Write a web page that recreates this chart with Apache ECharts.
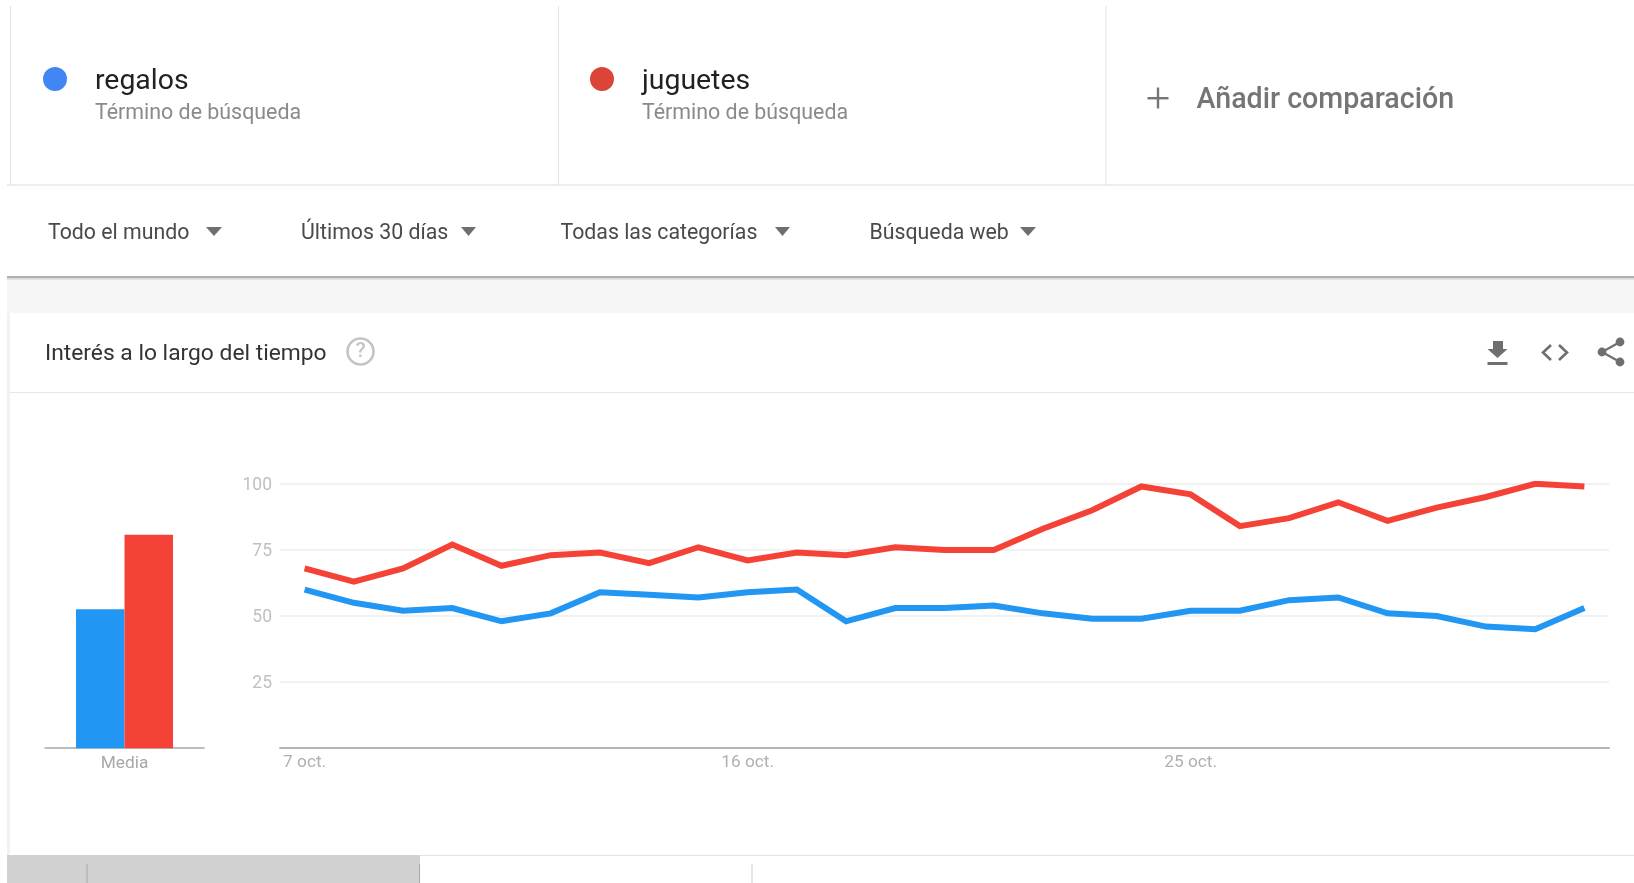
<!DOCTYPE html>
<html>
<head>
<meta charset="utf-8">
<style>html,body{margin:0;padding:0;background:#fff}#c{width:1634px;height:883px}</style>
<script src="https://cdn.jsdelivr.net/npm/echarts@6/dist/echarts.min.js"></script>
</head>
<body>
<div id="c"></div>
<script>
const dates = ["7 oct.","8 oct.","9 oct.","10 oct.","11 oct.","12 oct.","13 oct.","14 oct.","15 oct.","16 oct.","17 oct.","18 oct.","19 oct.","20 oct.","21 oct.","22 oct.","23 oct.","24 oct.","25 oct.","26 oct.","27 oct.","28 oct.","29 oct.","30 oct.","31 oct.","1 nov.","2 nov."];
const regalos = [60,55,52,53,48,51,59,58,57,59,60,48,53,53,54,51,49,49,52,52,56,57,51,50,46,45,53];
const juguetes = [68,63,68,77,69,73,74,70,76,71,74,73,76,75,75,83,90,99,96,84,87,93,86,91,95,100,99];
const mediaCategory = ["Media"];
const mediaRegalos = [52.6];
const mediaJuguetes = [80.7];
const filters = ["Todo el mundo","Últimos 30 días","Todas las categorías","Búsqueda web"];

const FONT = 'Roboto';
const txt = (x,y,text,size,fill,weight) => ({type:'text',x,y,silent:true,style:{text,x:0,y:0,font:`${weight||400} ${size}px ${FONT}`,fill,verticalAlign:'middle',align:'left'}});
const rect = (x,y,w,h,fill) => ({type:'rect',silent:true,shape:{x,y,width:w,height:h},style:{fill}});
const tri = (x1,x2,y1,y2,fill) => ({type:'polygon',silent:true,shape:{points:[[x1,y1],[x2,y1],[(x1+x2)/2,y2]]},style:{fill}});
const poly = (pts,stroke,lw) => ({type:'polyline',silent:true,shape:{points:pts},style:{stroke,lineWidth:lw,fill:null}});
const circle = (cx,cy,r,fill) => ({type:'circle',silent:true,shape:{cx,cy,r},style:{fill}});

const chrome = [
  rect(0,0,1634,883,'#ffffff'),
  // search term cards
  rect(10,6,1,179,'#e3e3e3'), rect(558,6,1,179,'#e3e3e3'), rect(1105.5,6,1,179,'#e3e3e3'),
  rect(7,184.5,1627,1,'#dddddd'),
  circle(55,79,12,'#4285f4'),
  txt(95,82,'regalos',28.4,'#202124'),
  txt(95,114,'Término de búsqueda',21.4,'#8a8a8a'),
  circle(602,79,12,'#db4437'),
  txt(642,82,'juguetes',28.4,'#202124'),
  txt(642,114,'Término de búsqueda',21.4,'#8a8a8a'),
  rect(1147.5,97,21,2.4,'#757575'), rect(1156.8,87.5,2.4,21,'#757575'),
  txt(1196.5,101,'Añadir comparación',28.6,'#757575',500),
  // filter row
  txt(48,234,filters[0],21.3,'#4a4a4a'), tri(206,222,227,236,'#6f6f6f'),
  txt(301,234,filters[1],21.3,'#4a4a4a'), tri(461,476,227,236,'#6f6f6f'),
  txt(560.5,234,filters[2],21.3,'#4a4a4a'), tri(775,790,227,236,'#6f6f6f'),
  txt(869.5,234,filters[3],21.3,'#4a4a4a'), tri(1020,1036,227,236,'#6f6f6f'),
  // band under filters
  rect(7,278,1627,35,'#f6f6f6'), rect(7,276,1627,2.5,'#b0b0b0'), rect(7,278.5,1627,1.5,'#e2e2e2'),
  rect(7,313,3,543,'#f2f2f2'),
  // panel header
  txt(45,354,'Interés a lo largo del tiempo',22.8,'#333333'),
  {type:'circle',silent:true,shape:{cx:360.5,cy:351.5,r:13},style:{fill:'#fff',stroke:'#c4c4c4',lineWidth:2.6}},
  {type:'text',x:360.5,y:352,silent:true,style:{text:'?',x:0,y:0,font:`500 21px ${FONT}`,fill:'#c4c4c4',align:'center',verticalAlign:'middle'}},
  rect(10,392,1624,1,'#e6e6e6'),
  // download icon
  {type:'polygon',silent:true,shape:{points:[[1493,341],[1503,341],[1503,349],[1507.5,349],[1497.5,358],[1487.5,349],[1493,349]]},style:{fill:'#6f6f6f'}},
  rect(1487.5,362,20,3,'#6f6f6f'),
  // code icon
  poly([[1551,345],[1543,352.5],[1551,360]],'#6f6f6f',2.6),
  poly([[1559,345],[1567,352.5],[1559,360]],'#6f6f6f',2.6),
  // share icon
  poly([[1620,342],[1602,352],[1620,362]],'#6f6f6f',2.2),
  circle(1602,352,4.4,'#6f6f6f'), circle(1620,342,4.4,'#6f6f6f'), circle(1620,362,4.4,'#6f6f6f'),
  // bottom strip
  rect(7,855,1627,1,'#e3e3e3'),
  rect(7,855,413,28,'#d1d1d1'),
  rect(86.5,864,1,19,'#a8a8a8'), rect(419,864,1,19,'#a8a8a8'), rect(751.5,864,1,19,'#cfcfcf')
];

const chart = echarts.init(document.getElementById('c'));
chart.setOption({
  backgroundColor:'#ffffff',
  animation:false,
  textStyle:{fontFamily:FONT},
  graphic:{elements:chrome.map(e=>Object.assign(e,{z:-10,zlevel:0}))},
  grid:[
    {left:45,top:483.8,width:159,height:264.4},
    {left:280,top:483.8,width:1329,height:264.4}
  ],
  xAxis:[
    {type:'category',gridIndex:0,data:mediaCategory,
     axisLine:{lineStyle:{color:'#a8a8a8',width:1.5}},axisTick:{show:false},
     axisLabel:{color:'#a8a8a8',fontSize:17.3,margin:7}},
    {type:'category',gridIndex:1,data:dates,boundaryGap:true,
     axisLine:{lineStyle:{color:'#b4b4b4',width:2}},axisTick:{show:false},
     axisLabel:{color:'#b0b0b0',fontSize:17.3,margin:6,interval:8,hideOverlap:false}}
  ],
  yAxis:[
    {type:'value',gridIndex:0,min:0,max:100,show:false},
    {type:'value',gridIndex:1,min:0,max:100,interval:25,
     axisLine:{show:false},axisTick:{show:false},
     axisLabel:{color:'#c0c0c0',fontSize:17.5,margin:8,lineHeight:21,verticalAlign:'top',padding:[-9,0,0,0],formatter:v=>v===0?'':String(v)},
     splitLine:{lineStyle:{color:'#ececec',width:1.5}}}
  ],
  series:[
    {type:'bar',name:'regalos',xAxisIndex:0,yAxisIndex:0,data:mediaRegalos,barWidth:48.5,barGap:'0%',itemStyle:{color:'#2196f3'}},
    {type:'bar',name:'juguetes',xAxisIndex:0,yAxisIndex:0,data:mediaJuguetes,barWidth:48.5,barGap:'0%',itemStyle:{color:'#f44336'}},
    {type:'line',name:'regalos',xAxisIndex:1,yAxisIndex:1,data:regalos,showSymbol:false,symbol:'none',smooth:false,lineStyle:{color:'#2196f3',width:6,cap:'butt',join:'miter'}},
    {type:'line',name:'juguetes',xAxisIndex:1,yAxisIndex:1,data:juguetes,showSymbol:false,symbol:'none',smooth:false,lineStyle:{color:'#f44336',width:6,cap:'butt',join:'miter'}}
  ]
});
</script>
</body>
</html>
